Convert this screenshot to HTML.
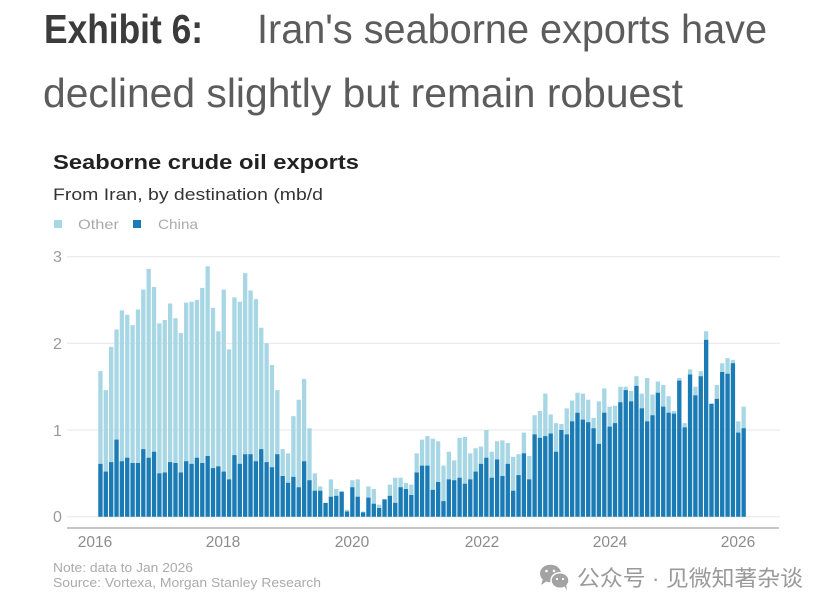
<!DOCTYPE html>
<html>
<head>
<meta charset="utf-8">
<style>
  html, body { margin:0; padding:0; background:#ffffff; }
  body { width:830px; height:610px; overflow:hidden; }
  svg { display:block; }
  .lat { font-family: "Liberation Sans", Arial, sans-serif; }
  .cjk { font-family: "Liberation Sans", "Noto Sans CJK SC", "WenQuanYi Zen Hei", sans-serif; }
</style>
</head>
<body>
<svg width="830" height="610" viewBox="0 0 830 610" xmlns="http://www.w3.org/2000/svg">
  <rect x="0" y="0" width="830" height="610" fill="#ffffff"/>

  <text class="lat" x="44" y="43" font-size="41" font-weight="bold" fill="#3b3b3b" textLength="159" lengthAdjust="spacingAndGlyphs">Exhibit 6:</text>
  <text class="lat" x="257" y="43" font-size="41" fill="#5c5c5c" textLength="510" lengthAdjust="spacingAndGlyphs">Iran's seaborne exports have</text>
  <text class="lat" x="43" y="107" font-size="41" fill="#5c5c5c" textLength="640" lengthAdjust="spacingAndGlyphs">declined slightly but remain robuest</text>

  <text class="lat" x="53" y="169" font-size="20" font-weight="bold" fill="#222222" textLength="306" lengthAdjust="spacingAndGlyphs">Seaborne crude oil exports</text>
  <text class="lat" x="53" y="200" font-size="16.5" fill="#333333" textLength="270" lengthAdjust="spacingAndGlyphs">From Iran, by destination (mb/d</text>

  <rect x="54" y="220" width="8" height="8" fill="#a7d6e4"/>
  <text class="lat" x="78" y="229" font-size="14" fill="#ababab" textLength="41" lengthAdjust="spacingAndGlyphs">Other</text>
  <rect x="133" y="220" width="8" height="8" fill="#1b7bb5"/>
  <text class="lat" x="158" y="229" font-size="14" fill="#ababab" textLength="40" lengthAdjust="spacingAndGlyphs">China</text>

  <g stroke="#e6e6e6" stroke-width="1">
    <line x1="67" y1="256.7" x2="780" y2="256.7"/>
    <line x1="67" y1="343.3" x2="780" y2="343.3"/>
    <line x1="67" y1="430" x2="780" y2="430"/>
    <line x1="67" y1="516.7" x2="780" y2="516.7"/>
  </g>

  <g class="lat" font-size="16" fill="#9a9a9a">
    <text x="53" y="262">3</text>
    <text x="53" y="349">2</text>
    <text x="53" y="436">1</text>
    <text x="53" y="522">0</text>
  </g>

  <g transform="translate(98.3,516.7) scale(5.36,-86.67)">
    <path fill="#a7d6e4" d="M0 0h.8v1.68h-.8zM1 0h.8v1.46h-.8zM2 0h.8v1.96h-.8zM3 0h.8v2.16h-.8zM4 0h.8v2.38h-.8zM5 0h.8v2.33h-.8zM6 0h.8v2.21h-.8zM7 0h.8v2.39h-.8zM8 0h.8v2.62h-.8zM9 0h.8v2.86h-.8zM10 0h.8v2.65h-.8zM11 0h.8v2.23h-.8zM12 0h.8v2.27h-.8zM13 0h.8v2.46h-.8zM14 0h.8v2.29h-.8zM15 0h.8v2.12h-.8zM16 0h.8v2.47h-.8zM17 0h.8v2.48h-.8zM18 0h.8v2.5h-.8zM19 0h.8v2.64h-.8zM20 0h.8v2.89h-.8zM21 0h.8v2.41h-.8zM22 0h.8v2.14h-.8zM23 0h.8v2.62h-.8zM24 0h.8v1.93h-.8zM25 0h.8v2.53h-.8zM26 0h.8v2.48h-.8zM27 0h.8v2.81h-.8zM28 0h.8v2.61h-.8zM29 0h.8v2.51h-.8zM30 0h.8v2.18h-.8zM31 0h.8v2h-.8zM32 0h.8v1.75h-.8zM33 0h.8v1.46h-.8zM34 0h.8v.78h-.8zM35 0h.8v.73h-.8zM36 0h.8v1.16h-.8zM37 0h.8v1.35h-.8zM38 0h.8v1.59h-.8zM39 0h.8v1.02h-.8zM40 0h.8v.5h-.8zM41 0h.8v.35h-.8zM42 0h.8v.16h-.8zM43 0h.8v.43h-.8zM44 0h.8v.32h-.8zM45 0h.8v.29h-.8zM46 0h.8v.08h-.8zM47 0h.8v.42h-.8zM48 0h.8v.43h-.8zM49 0h.8v.06h-.8zM50 0h.8v.35h-.8zM51 0h.8v.32h-.8zM52 0h.8v.14h-.8zM53 0h.8v.2h-.8zM54 0h.8v.37h-.8zM55 0h.8v.45h-.8zM56 0h.8v.45h-.8zM57 0h.8v.39h-.8zM58 0h.8v.37h-.8zM59 0h.8v.73h-.8zM60 0h.8v.89h-.8zM61 0h.8v.93h-.8zM62 0h.8v.9h-.8zM63 0h.8v.87h-.8zM64 0h.8v.59h-.8zM65 0h.8v.75h-.8zM66 0h.8v.65h-.8zM67 0h.8v.91h-.8zM68 0h.8v.92h-.8zM69 0h.8v.73h-.8zM70 0h.8v.79h-.8zM71 0h.8v.81h-.8zM72 0h.8v1h-.8zM73 0h.8v.75h-.8zM74 0h.8v.87h-.8zM75 0h.8v.88h-.8zM76 0h.8v.85h-.8zM77 0h.8v.69h-.8zM78 0h.8v.72h-.8zM79 0h.8v.97h-.8zM80 0h.8v.7h-.8zM81 0h.8v1.17h-.8zM82 0h.8v1.22h-.8zM83 0h.8v1.42h-.8zM84 0h.8v1.18h-.8zM85 0h.8v1.08h-.8zM86 0h.8v1.07h-.8zM87 0h.8v1.25h-.8zM88 0h.8v1.34h-.8zM89 0h.8v1.43h-.8zM90 0h.8v1.42h-.8zM91 0h.8v1.35h-.8zM92 0h.8v1.14h-.8zM93 0h.8v1.33h-.8zM94 0h.8v1.48h-.8zM95 0h.8v1.27h-.8zM96 0h.8v1.28h-.8zM97 0h.8v1.5h-.8zM98 0h.8v1.5h-.8zM99 0h.8v1.45h-.8zM100 0h.8v1.62h-.8zM101 0h.8v1.42h-.8zM102 0h.8v1.6h-.8zM103 0h.8v1.41h-.8zM104 0h.8v1.56h-.8zM105 0h.8v1.52h-.8zM106 0h.8v1.39h-.8zM107 0h.8v1.22h-.8zM108 0h.8v1.6h-.8zM109 0h.8v1.08h-.8zM110 0h.8v1.7h-.8zM111 0h.8v1.5h-.8zM112 0h.8v1.68h-.8zM113 0h.8v2.14h-.8zM114 0h.8v1.31h-.8zM115 0h.8v1.52h-.8zM116 0h.8v1.77h-.8zM117 0h.8v1.83h-.8zM118 0h.8v1.81h-.8zM119 0h.8v1.1h-.8zM120 0h.8v1.27h-.8z"/>
    <path fill="#1b7bb5" d="M0 0h.8v.61h-.8zM1 0h.8v.52h-.8zM2 0h.8v.63h-.8zM3 0h.8v.89h-.8zM4 0h.8v.64h-.8zM5 0h.8v.68h-.8zM6 0h.8v.62h-.8zM7 0h.8v.62h-.8zM8 0h.8v.78h-.8zM9 0h.8v.68h-.8zM10 0h.8v.75h-.8zM11 0h.8v.5h-.8zM12 0h.8v.51h-.8zM13 0h.8v.63h-.8zM14 0h.8v.62h-.8zM15 0h.8v.51h-.8zM16 0h.8v.64h-.8zM17 0h.8v.61h-.8zM18 0h.8v.68h-.8zM19 0h.8v.62h-.8zM20 0h.8v.7h-.8zM21 0h.8v.56h-.8zM22 0h.8v.58h-.8zM23 0h.8v.52h-.8zM24 0h.8v.43h-.8zM25 0h.8v.71h-.8zM26 0h.8v.61h-.8zM27 0h.8v.72h-.8zM28 0h.8v.72h-.8zM29 0h.8v.64h-.8zM30 0h.8v.78h-.8zM31 0h.8v.63h-.8zM32 0h.8v.57h-.8zM33 0h.8v.72h-.8zM34 0h.8v.47h-.8zM35 0h.8v.39h-.8zM36 0h.8v.46h-.8zM37 0h.8v.34h-.8zM38 0h.8v.64h-.8zM39 0h.8v.42h-.8zM40 0h.8v.3h-.8zM41 0h.8v.3h-.8zM42 0h.8v.16h-.8zM43 0h.8v.23h-.8zM44 0h.8v.24h-.8zM45 0h.8v.29h-.8zM46 0h.8v.06h-.8zM47 0h.8v.34h-.8zM48 0h.8v.23h-.8zM49 0h.8v.05h-.8zM50 0h.8v.22h-.8zM51 0h.8v.15h-.8zM52 0h.8v.1h-.8zM53 0h.8v.2h-.8zM54 0h.8v.24h-.8zM55 0h.8v.16h-.8zM56 0h.8v.34h-.8zM57 0h.8v.32h-.8zM58 0h.8v.25h-.8zM59 0h.8v.51h-.8zM60 0h.8v.59h-.8zM61 0h.8v.59h-.8zM62 0h.8v.31h-.8zM63 0h.8v.4h-.8zM64 0h.8v.18h-.8zM65 0h.8v.43h-.8zM66 0h.8v.42h-.8zM67 0h.8v.45h-.8zM68 0h.8v.38h-.8zM69 0h.8v.43h-.8zM70 0h.8v.52h-.8zM71 0h.8v.61h-.8zM72 0h.8v.68h-.8zM73 0h.8v.45h-.8zM74 0h.8v.66h-.8zM75 0h.8v.47h-.8zM76 0h.8v.61h-.8zM77 0h.8v.3h-.8zM78 0h.8v.48h-.8zM79 0h.8v.73h-.8zM80 0h.8v.43h-.8zM81 0h.8v.95h-.8zM82 0h.8v.91h-.8zM83 0h.8v.93h-.8zM84 0h.8v.96h-.8zM85 0h.8v.75h-.8zM86 0h.8v1h-.8zM87 0h.8v.95h-.8zM88 0h.8v1.1h-.8zM89 0h.8v1.2h-.8zM90 0h.8v1.12h-.8zM91 0h.8v1.09h-.8zM92 0h.8v1.02h-.8zM93 0h.8v.84h-.8zM94 0h.8v1.2h-.8zM95 0h.8v1.04h-.8zM96 0h.8v1.08h-.8zM97 0h.8v1.32h-.8zM98 0h.8v1.46h-.8zM99 0h.8v1.33h-.8zM100 0h.8v1.51h-.8zM101 0h.8v1.25h-.8zM102 0h.8v1.1h-.8zM103 0h.8v1.17h-.8zM104 0h.8v1.43h-.8zM105 0h.8v1.27h-.8zM106 0h.8v1.2h-.8zM107 0h.8v1.19h-.8zM108 0h.8v1.57h-.8zM109 0h.8v1.03h-.8zM110 0h.8v1.64h-.8zM111 0h.8v1.4h-.8zM112 0h.8v1.62h-.8zM113 0h.8v2.04h-.8zM114 0h.8v1.3h-.8zM115 0h.8v1.36h-.8zM116 0h.8v1.67h-.8zM117 0h.8v1.65h-.8zM118 0h.8v1.77h-.8zM119 0h.8v.97h-.8zM120 0h.8v1.02h-.8z"/>
  </g>

  <line x1="67" y1="528" x2="779" y2="528" stroke="#b3b3b3" stroke-width="1.5"/>

  <g class="lat" font-size="15.5" fill="#8c8c8c" text-anchor="middle">
    <text x="95" y="547">2016</text>
    <text x="223" y="547">2018</text>
    <text x="352" y="547">2020</text>
    <text x="482" y="547">2022</text>
    <text x="610" y="547">2024</text>
    <text x="738" y="547">2026</text>
  </g>

  <text class="lat" x="53" y="572" font-size="12.5" fill="#ababab" textLength="140" lengthAdjust="spacingAndGlyphs">Note: data to Jan 2026</text>
  <text class="lat" x="53" y="587" font-size="12.5" fill="#ababab" textLength="268" lengthAdjust="spacingAndGlyphs">Source: Vortexa, Morgan Stanley Research</text>

  <g fill="#a3a3a3">
    <ellipse cx="550.5" cy="573.5" rx="10.5" ry="8.8"/>
    <path d="M543 579 L541 585 L547 581 Z"/>
    <ellipse cx="560" cy="580.5" rx="9" ry="7.8" stroke="#ffffff" stroke-width="1.5"/>
    <path d="M564 586 L567 590 L566 584 Z"/>
  </g>
  <g fill="#ffffff">
    <circle cx="546.5" cy="571" r="1.3"/>
    <circle cx="554" cy="571" r="1.3"/>
    <circle cx="557" cy="579" r="1.1"/>
    <circle cx="563" cy="579" r="1.1"/>
  </g>
  <text class="cjk" x="577" y="586" font-size="22" fill="#9a9a9a" textLength="226" lengthAdjust="spacingAndGlyphs">公众号 · 见微知著杂谈</text>
</svg>
</body>
</html>
